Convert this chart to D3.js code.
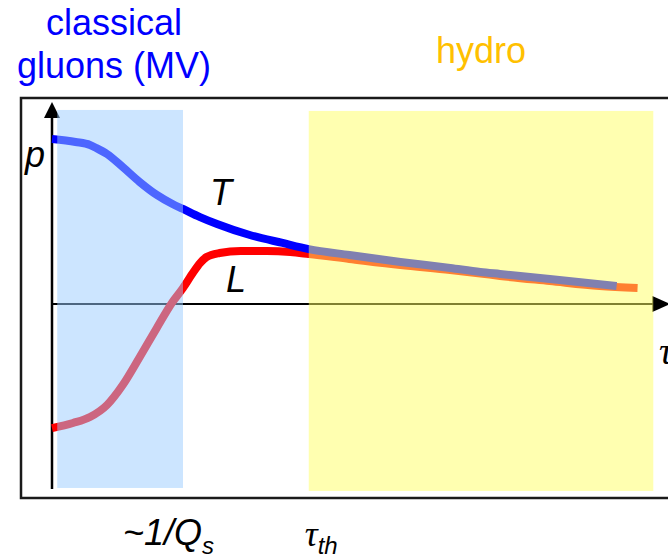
<!DOCTYPE html>
<html>
<head>
<meta charset="utf-8">
<script src="https://cdn.jsdelivr.net/npm/d3@7"></script>
<style>
  html, body { margin: 0; padding: 0; background: #fff; }
  svg { display: block; font-family: "Liberation Sans", Arial, sans-serif; }
</style>
</head>
<body>
<svg id="chart" width="668" height="557"></svg>
<script>
// Proper time tau (in units of 1/Qs) and pressure samples for the two components
const tauT = [0.00, 0.18, 0.29, 0.34, 0.42, 0.54, 0.67, 0.80, 0.92, 1.00, 1.13, 1.26, 1.51, 1.76, 1.96, 2.27, 2.66, 3.04, 3.27, 3.42, 3.80, 4.31];
const pT   = [1.000, 0.982, 0.964, 0.945, 0.909, 0.830, 0.739, 0.661, 0.606, 0.576, 0.527, 0.485, 0.418, 0.370, 0.333, 0.297, 0.255, 0.218, 0.194, 0.182, 0.152, 0.109];

const tauL = [0.00, 0.16, 0.29, 0.42, 0.54, 0.67, 0.80, 0.92, 1.00, 1.08, 1.13, 1.18, 1.28, 1.44, 1.64, 1.82, 1.96, 2.27, 2.66, 3.04, 3.27, 3.42, 3.80, 4.18, 4.47];
const pL   = [-0.752, -0.721, -0.685, -0.612, -0.491, -0.321, -0.145, 0.012, 0.097, 0.194, 0.248, 0.285, 0.309, 0.321, 0.321, 0.315, 0.303, 0.273, 0.236, 0.206, 0.185, 0.170, 0.139, 0.109, 0.097];

// Shaded stages: [tau start, tau end, p bottom, p top]
const glasmaStage = [0.04, 1.00, -1.115, 1.176];
const hydroStage  = [1.96, 4.59, -1.133, 1.170];

// Axis extents
const tauAxis = [0, 4.72];
const pAxis   = [-1.121, 1.224];

const svg = d3.select("#chart");

const x = d3.scaleLinear().domain([0, 1]).range([52, 183]);
const y = d3.scaleLinear().domain([0, 1]).range([304, 139]);

// Outer frame
svg.append("rect")
  .attr("x", 21).attr("y", 98)
  .attr("width", 720).attr("height", 400)
  .attr("fill", "none").attr("stroke", "#1a1a1a").attr("stroke-width", 2.5);

// Axes
const axisG = svg.append("g");
axisG.append("line")
  .attr("x1", x(tauAxis[0])).attr("x2", x(tauAxis[1]) - 16)
  .attr("y1", y(0)).attr("y2", y(0))
  .attr("stroke", "#000").attr("stroke-width", 2);
axisG.append("line")
  .attr("x1", x(0)).attr("x2", x(0))
  .attr("y1", y(pAxis[0])).attr("y2", y(pAxis[1]) + 12)
  .attr("stroke", "#000").attr("stroke-width", 2.5);
// Arrowheads
const tx = x(tauAxis[1]), ty = y(0);
axisG.append("path")
  .attr("d", `M${tx},${ty} L${tx - 18},${ty - 8} L${tx - 18},${ty + 8} Z`)
  .attr("fill", "#000");
const ax = x(0), ay = y(pAxis[1]);
axisG.append("path")
  .attr("d", `M${ax},${ay} L${ax - 8},${ay + 16} L${ax + 8},${ay + 16} Z`)
  .attr("fill", "#000");

// Curves
const line = d3.line()
  .x(d => x(d[0]))
  .y(d => y(d[1]))
  .curve(d3.curveMonotoneX);

svg.append("path")
  .datum(tauL.map((t, i) => [t, pL[i]]))
  .attr("d", line)
  .attr("fill", "none").attr("stroke", "#ff0000").attr("stroke-width", 8);

svg.append("path")
  .datum(tauT.map((t, i) => [t, pT[i]]))
  .attr("d", line)
  .attr("fill", "none").attr("stroke", "#0000ff").attr("stroke-width", 8);

// Translucent stage overlays
function band(s, color) {
  svg.append("rect")
    .attr("x", x(s[0])).attr("width", x(s[1]) - x(s[0]))
    .attr("y", y(s[3])).attr("height", y(s[2]) - y(s[3]))
    .attr("fill", color).attr("fill-opacity", 0.5);
}
band(glasmaStage, "#99ccff");
band(hydroStage, "#ffff62");

// Stage titles
svg.append("text")
  .attr("x", 114).attr("y", 35)
  .attr("text-anchor", "middle")
  .attr("font-size", 36).attr("fill", "#0000ff")
  .text("classical");
svg.append("text")
  .attr("x", 114).attr("y", 78)
  .attr("text-anchor", "middle")
  .attr("font-size", 36).attr("fill", "#0000ff")
  .text("gluons (MV)");
svg.append("text")
  .attr("x", 481).attr("y", 63)
  .attr("text-anchor", "middle")
  .attr("font-size", 36).attr("fill", "#ffc000")
  .text("hydro");

// Axis and curve labels
const it = (xp, yp, s, size) => svg.append("text")
  .attr("x", xp).attr("y", yp)
  .attr("font-size", size || 36).attr("font-style", "italic").attr("fill", "#000")
  .text(s);
it(25, 167, "p");
it(210, 205, "T");
it(226, 292, "L");
svg.append("text")
  .attr("x", 659).attr("y", 364)
  .attr("font-family", "'Liberation Serif', serif")
  .attr("font-size", 38).attr("font-style", "italic")
  .text("τ");

// Time markers below the frame
const qs = svg.append("text")
  .attr("x", x(1) - 60).attr("y", 545)
  .attr("font-size", 36).attr("font-style", "italic");
qs.append("tspan").text("~1/Q");
qs.append("tspan").attr("font-size", 24).attr("dy", 9).text("s");

const th = svg.append("text")
  .attr("x", x(hydroStage[0]) - 4).attr("y", 546)
  .attr("font-style", "italic");
th.append("tspan")
  .attr("font-family", "'Liberation Serif', serif")
  .attr("font-size", 36).text("τ");
th.append("tspan").attr("font-size", 24).attr("dy", 8).text("th");
</script>
</body>
</html>
